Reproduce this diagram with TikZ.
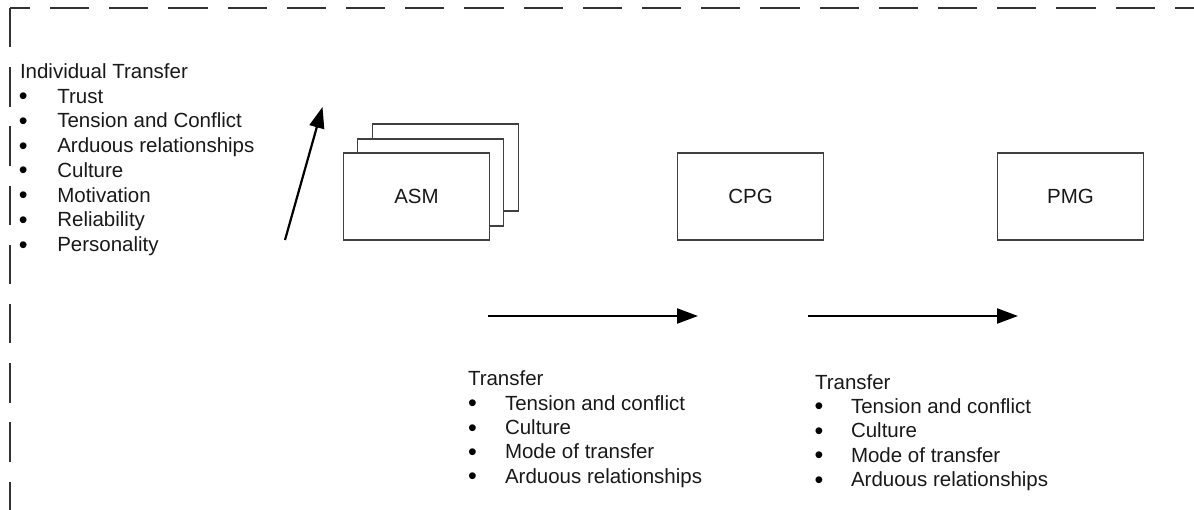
\documentclass[tikz,border=0pt]{standalone}
\usepackage{fontspec}
\setmainfont{Liberation Sans}
\usetikzlibrary{arrows.meta}
\begin{document}
\begin{tikzpicture}[x=1pt,y=-1pt,
  every node/.style={inner sep=0pt,outer sep=0pt,font=\fontsize{20.5}{24}\selectfont,text=black!90},
  procbox/.style={draw=black!75,line width=1.4pt,fill=white,minimum width=146pt,minimum height=87pt},
  txt/.style={anchor=base west},
  bul/.style={anchor=base,font=\fontsize{25}{24}\selectfont,text=black},
  flow/.style={draw=black,line width=2.2pt,-{Triangle[length=21pt,width=15pt]}},
  frame/.style={draw=black!80,line width=2.8pt}
]
\useasboundingbox (0,0) rectangle (1194,510);
% dashed frame (top and left edges visible)
\coordinate (fc) at (10,8);
\coordinate (ftr) at (1194,8);
\coordinate (fbl) at (10,510);
\draw[frame,dash pattern=on 39.2pt off 20pt,dash phase=19.2pt] (fc) -- (ftr);
\draw[frame,dash pattern=on 39.5pt off 19.7pt] (fc) -- (fbl);

% left list
\node[txt] (lt) at (20,78.5) {Individual Transfer};
\foreach \t [count=\i] in {Trust,Tension and Conflict,Arduous relationships,Culture,Motivation,Reliability,Personality}{
  \node[bul] (lb\i) at (23.3,80+24.74*\i) {•};
  \node[txt] (li\i) at (57.3,78.5+24.74*\i) {\t};
}

% middle list
\node[txt] (mt) at (468,386) {Transfer};
\foreach \t [count=\i] in {Tension and conflict,Culture,Mode of transfer,Arduous relationships}{
  \node[bul] (mb\i) at (472.5,387.5+24.3*\i) {•};
  \node[txt] (mi\i) at (505,386+24.3*\i) {\t};
}

% right list
\node[txt] (rt) at (815,389) {Transfer};
\foreach \t [count=\i] in {Tension and conflict,Culture,Mode of transfer,Arduous relationships}{
  \node[bul] (rb\i) at (819,390.5+24.4*\i) {•};
  \node[txt] (ri\i) at (851,389+24.4*\i) {\t};
}

% boxes
\node[procbox] (asm3) at (445.5,167.5) {};
\node[procbox] (asm2) at (430.5,182.5) {};
\node[procbox] (asm) at (416.5,196.5) {ASM};
\node[procbox] (cpg) at (750.5,196.5) {CPG};
\node[procbox] (pmg) at (1070.5,196.5) {PMG};

% arrows
\coordinate (d0) at (285,240);
\coordinate (d1) at (322.5,107);
\draw[flow] (d0) -- (d1);
\coordinate (a0) at (488,316);
\coordinate (a1) at (698,316);
\draw[flow] (a0) -- (a1);
\coordinate (b0) at (808,316);
\coordinate (b1) at (1018,316);
\draw[flow] (b0) -- (b1);
\end{tikzpicture}
\end{document}
